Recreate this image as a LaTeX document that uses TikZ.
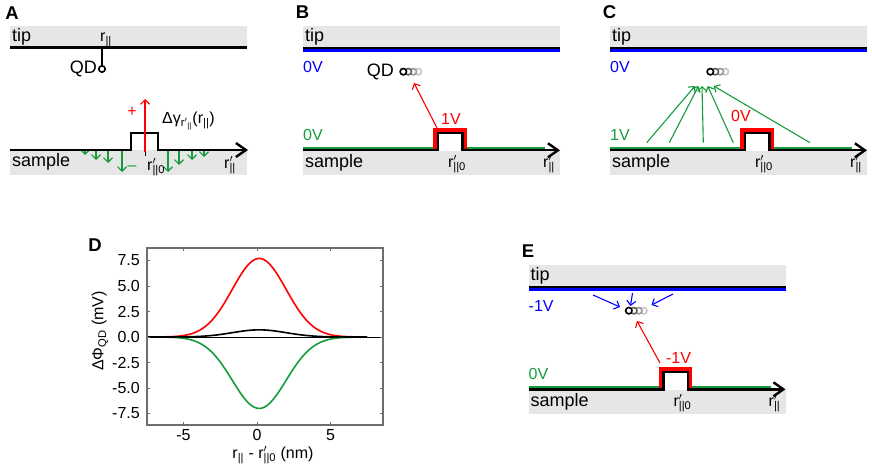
\documentclass[tikz,border=0pt]{standalone}
\usepackage{fontspec}
\setmainfont{Liberation Sans}
\usetikzlibrary{arrows.meta, positioning}
\definecolor{bandgrey}{HTML}{E6E6E6}
\definecolor{fgreen}{HTML}{169B3C}
\definecolor{fred}{HTML}{FF0000}
\definecolor{fblue}{HTML}{0000FF}
\definecolor{frame}{HTML}{6E6E6E}
\tikzset{
  band/.style={fill=bandgrey},
  surf/.style={line width=2.4pt},
  lbl/.style={font=\fontsize{16}{19}\selectfont, inner sep=0pt},
  slbl/.style={font=\fontsize{18}{21}\selectfont, inner sep=0pt},
  panel/.style={font=\fontsize{18.5}{22}\selectfont\bfseries, inner sep=0pt},
  fld/.style={-{Straight Barb[length=4.5pt,width=9pt]}, line width=1.1pt},
  axarr/.style={-{Straight Barb[length=10pt,width=14pt]}},
  qd/.style={circle, draw, line width=1.6pt, fill=white, minimum size=6.4pt, inner sep=0pt},
}
\newcommand{\rp}{r\textsubscript{||}}
\newcommand{\rpz}{r\rlap{$'$}\textsubscript{||0}}
\newcommand{\rpr}{r\rlap{$'$}\textsubscript{||}}
% one tip/sample stage, drawn in B coordinates
\newcommand{\stage}[2]{%
  \node[panel] (lab#1) at (302.5,12) {#2};
  \fill[band] (303,26) rectangle (560,49);
  \draw[fblue, line width=3.3pt] (303,50.7) -- (560,50.7);
  \draw[line width=2pt] (303,47.8) -- (560,47.8);
  \node[slbl, anchor=west] (tip#1) at (305,37) {tip};
  \fill[band] (303,151) rectangle (560,175);
  \draw[fgreen, line width=2.3pt] (303,147.8) -- (436,147.8) (465,147.8) -- (545,147.8);
  \draw[fred, line width=3.3pt] (435,150) -- (435,130) -- (465,130) -- (465,150);
  \draw[surf, axarr] (303,150.3) -- (438,150.3) -- (438,133) -- (462.5,133) -- (462.5,150.3) -- (560,150.3);
  \node[slbl, anchor=west] (samp#1) at (305,163) {sample};
  \node[lbl] (rz#1) at (457,164) {\rpz};
  \node[lbl] (rr#1) at (549,164) {\rpr};
  \foreach \k/\c in {3/black!22, 2/black!40, 1/black!62}
    \draw[\c, line width=1.6pt, fill=white] (403.3+5*\k,71.7) circle (3.2pt);
  \node[qd] (qd#1) at (403.3,71.7) {};
}

\begin{document}
\begin{tikzpicture}[x=1pt, y=-1pt, line cap=butt]
  \useasboundingbox (0,0) rectangle (872,465);

  % A
  \node[panel] (labA) at (12,13) {A};
  \fill[band] (10,26) rectangle (247,47);
  \draw[line width=2.3pt] (10,47.5) -- (247,47.5);
  \node[slbl, anchor=west] (tipA) at (12,37) {tip};
  \node[lbl, anchor=base west] (rA) at (100,42) {\rp};
  \node[qd] (qdA) at (102,69) {};
  \draw[line width=1.3pt] (102,48) -- (qdA.north);
  \node[slbl, anchor=east] (qdlA) at (97,69) {QD};
  \fill[band] (10,150) rectangle (247,175);
  \node[slbl, anchor=west] (sampA) at (12,162) {sample};
  \foreach \gx/\gy in {85/155,96/160,108/163,122/172,168/172,179/165,192/160,204/157}
    \draw[fld, fgreen] (\gx,151) -- (\gx,\gy);
  \draw[surf, axarr] (10,150) -- (131,150) -- (131,133) -- (158,133) -- (158,150) -- (248,150);
  \draw[line width=1pt] (145,151) -- (145,156);
  \coordinate (upA) at (145,99);
  \draw[fld, fred] (145,152) -- (upA);
  \node[lbl, text=fred] (plusA) at (132,112) {+};
  \node[lbl, text=fgreen] (minusA) at (132,168) {–};
  \node[lbl, anchor=west] (dgA) at (162,121) {Δγ\textsubscript{r$'$\textsubscript{||}}(\rp)};
  \node[lbl, anchor=west] (rzA) at (147,167) {\rpz};
  \node[lbl] (rrA) at (230,165) {\rpr};

  % B
  \stage{B}{B}
  \node[lbl, text=fblue, anchor=west] (vtB) at (303,67) {0V};
  \node[lbl, text=fgreen, anchor=west] (vsB) at (303,135) {0V};
  \node[lbl, text=fred] (vbB) at (451,119) {1V};
  \node[slbl, anchor=east] (qdlB) at (394,72) {QD};
  \coordinate (srcB) at (437,128);
  \coordinate (tgtB) at (414,83);
  \draw[fld, fred] (srcB) -- (tgtB);

  % C
  \begin{scope}[shift={(307,0)}]
    \stage{C}{C}
    \node[lbl, text=fblue, anchor=west] (vtC) at (303,67) {0V};
    \node[lbl, text=fgreen, anchor=west] (vsC) at (303,135) {1V};
    \node[lbl, text=fred] (vbC) at (434,116) {0V};
    \foreach \sx/\ex [count=\i] in {339.7/388, 362.3/391.5, 396.3/395, 426.3/400.7, 503/406.7}{
      \coordinate (sC\i) at (\sx,142.7);
      \coordinate (eC\i) at (\ex,86);
      \draw[fld, fgreen] (sC\i) -- (eC\i);
    }
  \end{scope}

  % E
  \begin{scope}[shift={(225.5,239)}]
    \stage{E}{E}
    \node[lbl, text=fblue, anchor=west] (vtE) at (303,67) {-1V};
    \node[lbl, text=fgreen, anchor=west] (vsE) at (303,135) {0V};
    \node[lbl, text=fred] (vbE) at (453,119) {-1V};
    \foreach \sx/\sy/\ex/\ey [count=\i] in {367.5/56/394.5/68, 407/54/405/67, 447.5/55/426/66}{
      \coordinate (sE\i) at (\sx,\sy);
      \coordinate (eE\i) at (\ex,\ey);
      \draw[fld, fblue] (sE\i) -- (eE\i);
    }
    \coordinate (srcE) at (434.5,124);
    \coordinate (tgtE) at (411.5,82);
    \draw[fld, fred] (srcE) -- (tgtE);
  \end{scope}

  % D
  \node[panel] (labD) at (95,245) {D};
  \node[lbl, rotate=90] (ylab) at (100,331) {ΔΦ\textsubscript{QD} (mV)};
  \node[lbl] (xlab) at (273,455) {\rp{} - \rpz{} (nm)};
  \begin{scope}[shift={(257,337)}, x=14.7pt, y=10.2pt]
    \draw[line width=0.7pt] (-7.48,0) -- (8.57,0);
    \draw[fred, line width=1.6pt, domain=-7.5:7.5, samples=150, smooth] plot (\x, {7.7*exp(-((\x-0.15)^2)/6.7)});
    \draw[fgreen, line width=1.6pt, domain=-7.5:7.5, samples=150, smooth] plot (\x, {-7.0*exp(-((\x-0.15)^2)/6.7)});
    \draw[line width=1.6pt, domain=-7.5:7.5, samples=150, smooth] plot (\x, {0.7*exp(-((\x-0.15)^2)/6.7)});
    \draw[frame, line width=1.2pt] (-7.48,-8.63) rectangle (8.57,8.73);
    \foreach \tx in {-5,0,5}{
      \draw[frame, line width=1pt] (\tx,-8.63) -- ++(0,0.3) (\tx,8.73) -- ++(0,-0.3);
      \node[lbl] (xt\tx) at (\tx,-9.6) {\tx};
    }
    \foreach \ty/\tl in {7.5/7.5, 5/5.0, 2.5/2.5, 0/0.0, -2.5/-2.5, -5/-5.0, -7.5/-7.5}{
      \draw[frame, line width=1pt] (-7.48,\ty) -- ++(0.2,0) (8.57,\ty) -- ++(-0.2,0);
      \node[lbl, anchor=east] (yt\tl) at (-7.96,\ty) {\tl};
    }
  \end{scope}
\end{tikzpicture}
\end{document}
